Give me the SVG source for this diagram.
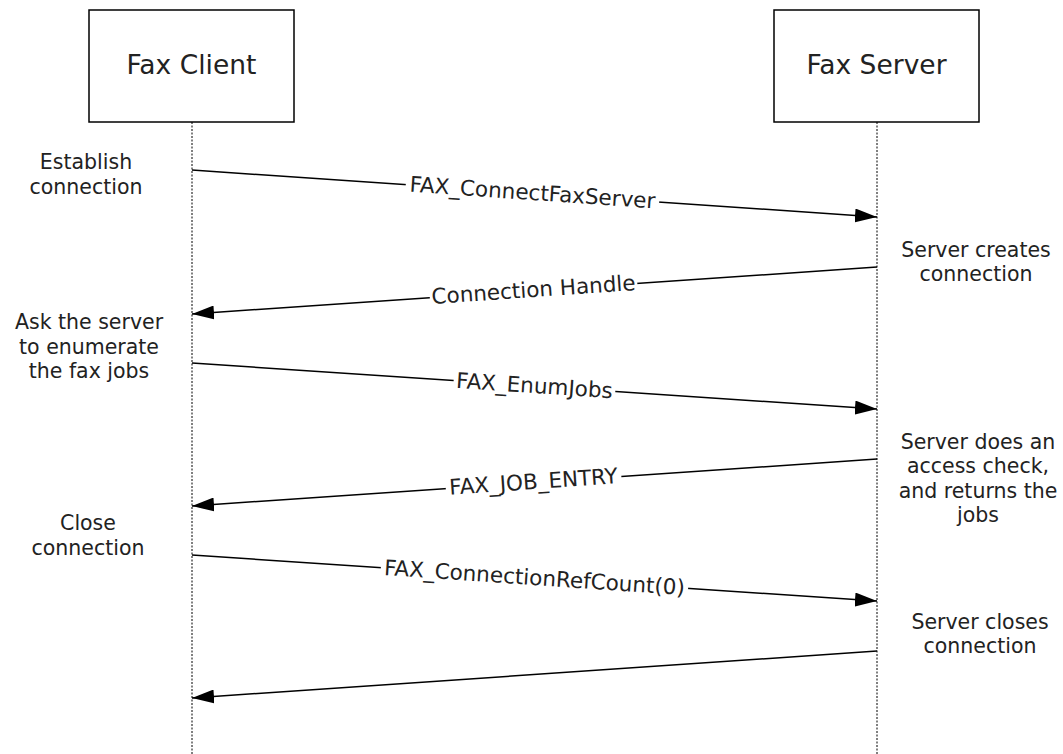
<svg xmlns="http://www.w3.org/2000/svg" width="1063" height="754" viewBox="0 0 1063 754">
<style>
.box{fill:#fff;stroke:#000;stroke-width:1.5}
.title{font-family:"DejaVu Sans",Verdana,sans-serif;font-size:26.5px;fill:#222;text-anchor:middle}
.note{font-family:"DejaVu Sans",Verdana,sans-serif;font-size:20.5px;fill:#222;text-anchor:middle}
.life{stroke:#000;stroke-width:1;stroke-dasharray:2 1.5;fill:none}
.msg{stroke:#000;stroke-width:1.5;fill:none;marker-end:url(#ah)}
.lbl{font-family:"DejaVu Sans",Verdana,sans-serif;font-size:21.5px;fill:#222;text-anchor:middle}
.bg{fill:#fff}
</style>
<defs>
<marker id="ah" viewBox="0 0 22 14" refX="22" refY="7" markerWidth="22" markerHeight="14" markerUnits="userSpaceOnUse" orient="auto">
<path d="M0,0 L22,7 L0,14 z" fill="#000"/>
</marker>
</defs>
<rect width="1063" height="754" fill="#fff"/>
<g id="client">
<rect class="box" x="89" y="10" width="205" height="112"/>
<text class="title" x="191.5" y="74">Fax Client</text>
<line class="life" x1="192" y1="122" x2="192" y2="754"/>
</g>
<g id="server">
<rect class="box" x="774" y="10" width="205" height="112"/>
<text class="title" x="876.5" y="74">Fax Server</text>
<line class="life" x1="877" y1="122" x2="877" y2="754"/>
</g>
<g id="notes">
<text class="note" x="86" y="169">Establish</text>
<text class="note" x="86" y="194">connection</text>
<text class="note" x="976" y="257">Server creates</text>
<text class="note" x="976" y="281">connection</text>
<text class="note" x="89" y="329">Ask the server</text>
<text class="note" x="89" y="354">to enumerate</text>
<text class="note" x="89" y="378">the fax jobs</text>
<text class="note" x="978" y="449">Server does an</text>
<text class="note" x="978" y="473">access check,</text>
<text class="note" x="978" y="498">and returns the</text>
<text class="note" x="978" y="522">jobs</text>
<text class="note" x="88" y="530">Close</text>
<text class="note" x="88" y="555">connection</text>
<text class="note" x="980" y="629">Server closes</text>
<text class="note" x="980" y="653">connection</text>
</g>
<g id="connectors">
<line class="msg" x1="192" y1="170" x2="877" y2="217"/>
<line class="msg" x1="877" y1="267" x2="192" y2="314"/>
<line class="msg" x1="192" y1="363" x2="877" y2="409"/>
<line class="msg" x1="877" y1="459" x2="192" y2="506"/>
<line class="msg" x1="192" y1="555" x2="877" y2="601"/>
<line class="msg" x1="877" y1="651" x2="192" y2="698"/>
<g transform="translate(532,200) rotate(3.93)"><rect class="bg" x="-127" y="-17" width="254" height="23"/><text class="lbl">FAX_ConnectFaxServer</text></g>
<g transform="translate(534,297) rotate(-3.93)"><rect class="bg" x="-104" y="-17" width="208" height="23"/><text class="lbl">Connection Handle</text></g>
<g transform="translate(534,393) rotate(3.84)"><rect class="bg" x="-81" y="-17" width="162" height="23"/><text class="lbl">FAX_EnumJobs</text></g>
<g transform="translate(534,489) rotate(-3.93)"><rect class="bg" x="-88" y="-17" width="176" height="23"/><text class="lbl">FAX_JOB_ENTRY</text></g>
<g transform="translate(534,585) rotate(3.84)"><rect class="bg" x="-154" y="-17" width="308" height="23"/><text class="lbl">FAX_ConnectionRefCount(0)</text></g>
</g>
</svg>
